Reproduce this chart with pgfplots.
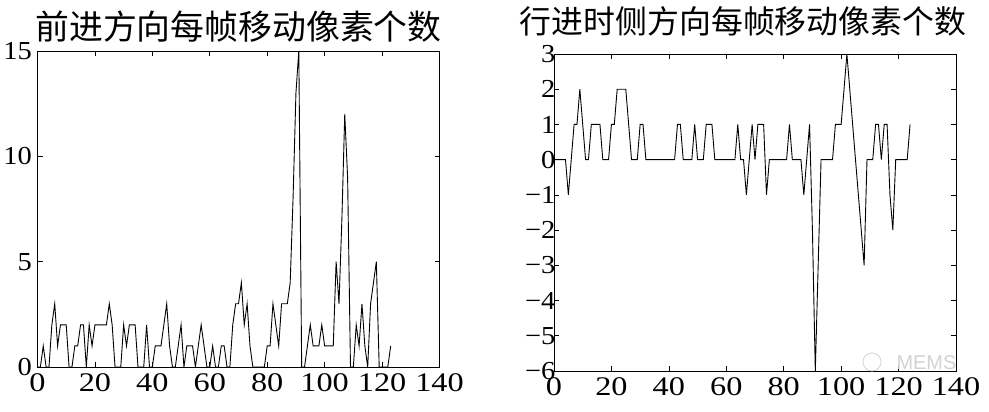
\documentclass[border=0pt]{standalone}
\usepackage{pgfplots}
\pgfplotsset{compat=1.18}
\usepackage{fontspec}
\setmainfont{Liberation Serif}
\newfontfamily\xtickfont[FakeStretch=1.2]{Liberation Serif}
\newfontfamily\ytickfont[FakeStretch=1.1]{Liberation Serif}
\newfontfamily\cjk{Noto Sans CJK SC}
\newfontfamily\wmfont{Liberation Sans}
\begin{document}
\begin{tikzpicture}
\path[use as bounding box] (0bp,0bp) rectangle (989bp,412bp);
\pgfplotsset{
  every axis/.append style={
    scale only axis,
    axis line style={black, line width=0.8bp},
    tick align=inside,
    major tick length=5bp,
    tick style={black, line width=0.6bp},
    xmin=0, xmax=140,
    xtick={0,20,...,140},
    /pgf/number format/assume math mode=true,
    xticklabel style={font=\fontsize{27}{27}\selectfont\xtickfont, yshift=-3bp},
    yticklabel style={font=\fontsize{26}{26}\selectfont\ytickfont},
    title style={font=\fontsize{34}{34}\selectfont\cjk, at={(0.5,1)}, anchor=base, yshift=6bp},
  }
}
\begin{axis}[at={(37.5bp,45bp)}, anchor=south west, width=402bp, height=316bp,
  ymin=0, ymax=15, ytick={0,5,10,15},
  yticklabel style={xshift=-2bp},
  title={前进方向每帧移动像素个数}]
\addplot[black, line width=0.9bp] coordinates {
(0,0)(1,0)(2,1)(3,0)(4,0)(5,2)(6,3)(7,1)(8,2)(9,2)(10,2)(11,0)(12,0)(13,1)(14,1)(15,2)(16,2)(17,0)(18,2)(19,1)(20,2)(21,2)(22,2)(23,2)(24,2)(25,3)(26,2)(27,0)(28,0)(29,0)(30,2)(31,1)(32,2)(33,2)(34,2)(35,0)(36,0)(37,0)(38,2)(39,0)(40,0)(41,1)(42,1)(43,1)(44,2)(45,3)(46,1)(47,0)(48,0)(49,1)(50,2)(51,0)(52,1)(53,1)(54,1)(55,0)(56,1)(57,2)(58,1)(59,0)(60,0)(61,1)(62,0)(63,0)(64,1)(65,1)(66,0)(67,0)(68,2)(69,3)(70,3)(71,4)(72,2)(73,3)(74,1)(75,0)(76,0)(77,0)(78,0)(79,0)(80,1)(81,1)(82,3)(83,2)(84,1)(85,3)(86,3)(87,3)(88,4)(89,8)(90,13)(91,15)(92,0)(93,0)(94,1)(95,2)(96,1)(97,1)(98,1)(99,2)(100,1)(101,1)(102,1)(103,1)(104,5)(105,3)(106,7)(107,12)(108,9)(109,0)(110,0)(111,2)(112,1)(113,3)(114,1)(115,0)(116,3)(117,4)(118,5)(119,0)(120,0)(121,0)(122,0)(123,1)
};
\end{axis}
\begin{axis}[at={(554bp,41bp)}, anchor=south west, width=402bp, height=317bp,
  ymin=-6, ymax=3, ytick={-6,-5,-4,-3,-2,-1,0,1,2,3},
  yticklabels={−6,−5,−4,−3,−2,−1,0,1,2,3},
  yticklabel style={xshift=5bp},
  title style={font=\fontsize{32}{32}\selectfont\cjk, xshift=-12bp, yshift=9bp},
  title={行进时侧方向每帧移动像素个数}]
\addplot[black, line width=0.9bp] coordinates {
(0,0)(1,0)(2,0)(3,0)(4,0)(5,-1)(6,0)(7,1)(8,1)(9,2)(10,1)(11,0)(12,0)(13,1)(14,1)(15,1)(16,1)(17,0)(18,0)(19,0)(20,1)(21,1)(22,2)(23,2)(24,2)(25,2)(26,1)(27,0)(28,0)(29,0)(30,1)(31,1)(32,0)(33,0)(34,0)(35,0)(36,0)(37,0)(38,0)(39,0)(40,0)(41,0)(42,0)(43,1)(44,1)(45,0)(46,0)(47,0)(48,0)(49,1)(50,0)(51,0)(52,0)(53,1)(54,1)(55,1)(56,0)(57,0)(58,0)(59,0)(60,0)(61,0)(62,0)(63,0)(64,1)(65,0)(66,0)(67,-1)(68,0)(69,1)(70,0)(71,1)(72,1)(73,1)(74,-1)(75,0)(76,0)(77,0)(78,0)(79,0)(80,0)(81,0)(82,1)(83,0)(84,0)(85,0)(86,0)(87,-1)(88,0)(89,1)(90,-2)(91,-6)(92,-3)(93,0)(94,0)(95,0)(96,0)(97,0)(98,1)(99,1)(100,1)(101,2)(102,3)(103,2)(104,1)(105,0)(106,-1)(107,-2)(108,-3)(109,0)(110,0)(111,0)(112,1)(113,1)(114,0)(115,1)(116,1)(117,-1)(118,-2)(119,0)(120,0)(121,0)(122,0)(123,0)(124,1)
};
\end{axis}
\node[anchor=base west, text=gray!35, font=\fontsize{20}{20}\selectfont\wmfont] at (893bp,42bp) {MEMS};
\draw[gray!35, line width=0.8bp] (872bp,50bp) circle (9bp);
\end{tikzpicture}
\end{document}
